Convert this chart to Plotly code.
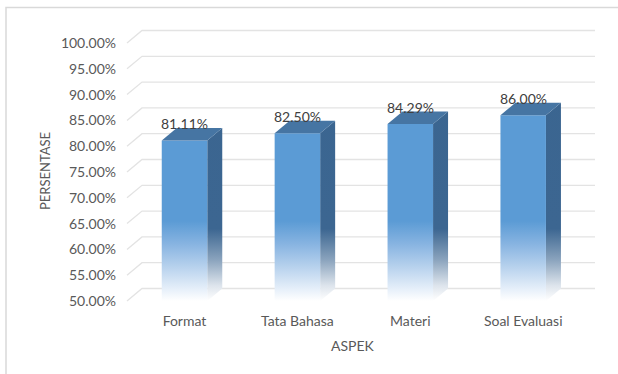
import plotly.graph_objects as go

# ---- data ----
categories = ["Format", "Tata Bahasa", "Materi", "Soal Evaluasi"]
values = [81.11, 82.50, 84.29, 86.00]
y_ticks = [50, 55, 60, 65, 70, 75, 80, 85, 90, 95, 100]
y_tick_labels = [f"{t:.2f}%" for t in y_ticks]
value_labels = [f"{v:.2f}%" for v in values]

# ---- geometry (pixel calibration) ----
W, H = 618, 374
L, R, T, B = 117, 10, 22, 63
pw, ph = W - L - R, H - T - B
X_PX = 112.9          # px per category
X0_PX = 184.5         # pixel of first category centre
Y_PX = 5.16           # px per percent
Y50_PX = 301          # pixel of 50 %
xr0 = -(X0_PX - L) / X_PX
xr1 = xr0 + pw / X_PX
yr0 = 50 - (H - B - Y50_PX) / Y_PX
yr1 = yr0 + ph / Y_PX

HW = 45.5 / X_PX / 2   # half width of front face
DX = 15 / X_PX         # depth offset x
DY = 12.5 / Y_PX       # depth offset y
BASE = y_ticks[0]

def px_x(p):
    return (p - L) / pw

def px_y(p):
    return (H - B - p) / ph

FONT = "Lato"
TXT = "#595959"
FS = 14

fig = go.Figure()

# ---- gridlines (back wall + floor slants) ----
gx_front = (127 - X0_PX) / X_PX
gx_end = (595 - X0_PX) / X_PX
gxs, gys = [], []
for t in y_ticks:
    gxs += [gx_front, gx_front + DX, gx_end, None]
    gys += [t, t + DY, t + DY, None]
fig.add_trace(go.Scatter(x=gxs, y=gys, mode="lines",
                         line=dict(color="#E3E3E3", width=1.3),
                         hoverinfo="skip", showlegend=False))

front_cs = [[0.0, "#FFFFFF"], [0.05, "#E4EEF9"], [0.14, "#B3CFEC"],
            [0.22, "#88B4E1"], [0.31, "#5B9BD5"], [1.0, "#5B9BD5"]]
side_cs = [[0.0, "#FFFFFF"], [0.06, "#DDE4EC"], [0.16, "#8AA3BD"],
           [0.28, "#3C6691"], [1.0, "#3A6590"]]

for i, v in enumerate(values):
    # side face
    fig.add_trace(go.Scatter(
        x=[i + HW, i + HW + DX, i + HW + DX, i + HW, i + HW],
        y=[BASE, BASE + DY, v + DY, v, BASE],
        mode="lines", fill="toself", line=dict(width=0),
        fillgradient=dict(type="vertical", start=BASE, stop=100, colorscale=side_cs),
        hoverinfo="skip", showlegend=False))
    # front face
    fig.add_trace(go.Scatter(
        x=[i - HW, i + HW, i + HW, i - HW, i - HW],
        y=[BASE, BASE, v, v, BASE],
        mode="lines", fill="toself", line=dict(width=0),
        fillgradient=dict(type="vertical", start=BASE, stop=100, colorscale=front_cs),
        hoverinfo="skip", showlegend=False))
    # top face
    fig.add_trace(go.Scatter(
        x=[i - HW, i + HW, i + HW + DX, i - HW + DX, i - HW],
        y=[v, v, v + DY, v + DY, v],
        mode="lines", fill="toself", line=dict(width=0),
        fillcolor="#4675A3",
        hoverinfo="skip", showlegend=False))
    fig.add_annotation(x=i, y=v + DY, text=value_labels[i], showarrow=False,
                       xanchor="center", yanchor="middle", yshift=4,
                       font=dict(family=FONT, size=FS, color="#404040"))

# axis titles
fig.add_annotation(x=px_x(353), y=px_y(345), xref="paper", yref="paper",
                   text="ASPEK", showarrow=False,
                   xanchor="center", yanchor="middle",
                   font=dict(family=FONT, size=FS, color=TXT))
fig.add_annotation(x=px_x(45), y=px_y(171), xref="paper", yref="paper",
                   text="PERSENTASE", showarrow=False, textangle=-90,
                   xanchor="center", yanchor="middle",
                   font=dict(family=FONT, size=13, color=TXT))

# chart frame
fig.add_shape(type="rect", xref="paper", yref="paper",
              x0=px_x(6), y0=px_y(7.5), x1=px_x(W + 20), y1=px_y(H + 20),
              line=dict(color="#D9D9D9", width=1.5), fillcolor="rgba(0,0,0,0)")

fig.update_layout(
    width=W, height=H,
    margin=dict(l=L, r=R, t=T, b=B),
    paper_bgcolor="white", plot_bgcolor="white",
    showlegend=False,
    xaxis=dict(range=[xr0, xr1], tickvals=list(range(len(categories))),
               ticktext=categories, showgrid=False, zeroline=False,
               showline=False, ticks="",
               tickfont=dict(family=FONT, size=FS, color=TXT), fixedrange=True),
    yaxis=dict(range=[yr0, yr1], tickvals=y_ticks, ticktext=y_tick_labels,
               showgrid=False, zeroline=False, showline=False, ticks="",
               tickfont=dict(family=FONT, size=FS, color=TXT), fixedrange=True),
)

fig.write_html("out.html")
